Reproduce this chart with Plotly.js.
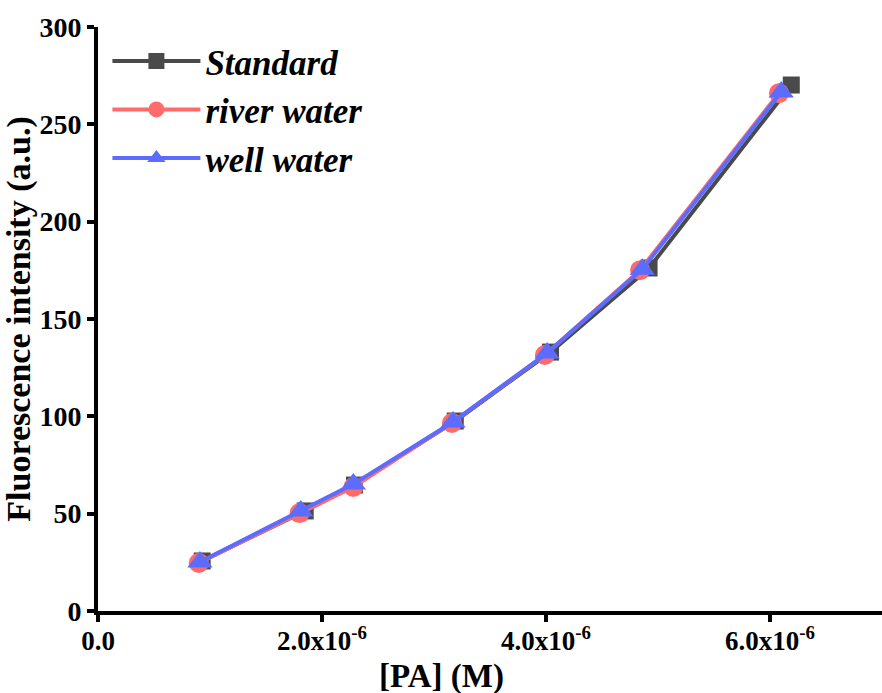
<!DOCTYPE html>
<html>
<head>
<meta charset="utf-8">
<script src="https://cdn.plot.ly/plotly-3.0.1.min.js"></script>
<style>html,body{margin:0;padding:0;background:#fff;}#chart{width:882px;height:693px;}</style>
</head>
<body>
<div id="chart"></div>
<script>
// Concentration of PA (M)
const stdX   = [0.93e-6, 1.85e-6, 2.29e-6, 3.19e-6, 4.04e-6, 4.92e-6, 6.19e-6];
const stdY   = [25.7, 51.4, 64.7, 97.6, 133.0, 176.2, 270.2];
const riverX = [0.90e-6, 1.80e-6, 2.28e-6, 3.16e-6, 3.99e-6, 4.84e-6, 6.08e-6];
const riverY = [24.7, 50.3, 63.7, 96.6, 131.5, 175.1, 266.0];
const wellX  = [0.91e-6, 1.81e-6, 2.28e-6, 3.17e-6, 4.01e-6, 4.86e-6, 6.10e-6];
const wellY  = [25.2, 51.4, 65.2, 97.1, 132.5, 175.6, 266.6];
const seriesNames = ["Standard", "river water", "well water"];
const xTickVals = [0, 2e-6, 4e-6, 6e-6];
const xTickText = ["0.0", "2.0x10<sup>-6</sup>", "4.0x10<sup>-6</sup>", "6.0x10<sup>-6</sup>"];
const yTickVals = [0, 50, 100, 150, 200, 250, 300];
const xTitle = "[PA] (M)";
const yTitle = "Fluorescence intensity (a.u.)";

const traces = [
  {x: stdX, y: stdY, name: seriesNames[0], mode: "lines+markers",
   line: {color: "#4a4a4a", width: 4},
   marker: {symbol: "square", size: 17, color: "#4a4a4a"}, cliponaxis: false},
  {x: riverX, y: riverY, name: seriesNames[1], mode: "lines+markers",
   line: {color: "#ff6b6b", width: 4},
   marker: {symbol: "circle", size: 20, color: "#ff6b6b"}, cliponaxis: false},
  {x: wellX, y: wellY, name: seriesNames[2], mode: "lines+markers",
   line: {color: "#5b6cff", width: 4},
   marker: {symbol: "triangle-up", size: 22, color: "#5b6cff"}, cliponaxis: false}
];

const fontFam = "Liberation Serif, Times New Roman, serif";
const layout = {
  width: 882, height: 693,
  margin: {l: 98, r: 0, t: 27, b: 82},
  paper_bgcolor: "#fff", plot_bgcolor: "#fff",
  font: {family: fontFam, color: "#000"},
  showlegend: true,
  legend: {
    x: 0.012, y: 0.992, xanchor: "left", yanchor: "top",
    bgcolor: "rgba(0,0,0,0)",
    itemwidth: 88,
    font: {family: fontFam, size: 35, weight: "bold", style: "italic", color: "#000"},
    tracegroupgap: 0
  },
  xaxis: {
    range: [0, 7e-6],
    tickmode: "array", tickvals: xTickVals, ticktext: xTickText,
    showgrid: false, zeroline: false,
    showline: true, linecolor: "#000", linewidth: 4,
    ticks: "outside", ticklen: 7, tickwidth: 4, tickcolor: "#000",
    ticklabelstandoff: -4,
    tickfont: {family: fontFam, size: 27, weight: "bold"}
  },
  yaxis: {
    range: [0, 300],
    tickmode: "array", tickvals: yTickVals,
    showgrid: false, zeroline: false,
    showline: true, linecolor: "#000", linewidth: 4,
    ticks: "outside", ticklen: 7, tickwidth: 4, tickcolor: "#000",
    tickfont: {family: fontFam, size: 28, weight: "bold"},
    title: {text: yTitle, font: {family: fontFam, size: 34, weight: "bold"}, standoff: 0}
  },
  annotations: [
    {text: xTitle, xref: "paper", yref: "paper", x: (441 - 98) / 784, y: -0.077,
     xanchor: "center", yanchor: "top", showarrow: false,
     font: {family: fontFam, size: 33, weight: "bold", color: "#000"}}
  ]
};

Plotly.newPlot("chart", traces, layout, {displayModeBar: false, staticPlot: true});
</script>
</body>
</html>
